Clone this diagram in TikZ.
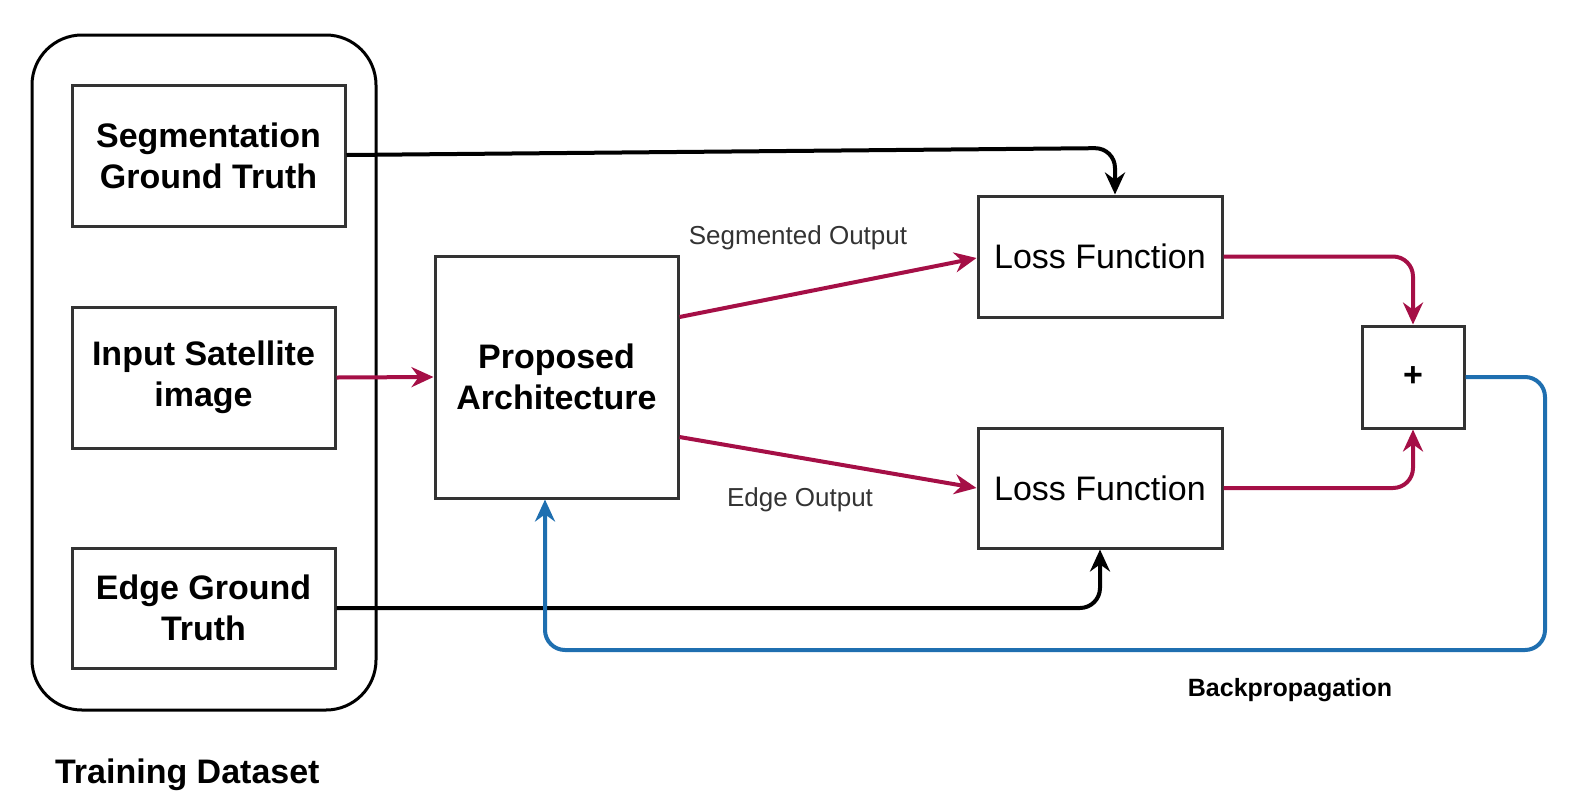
\documentclass[tikz,border=0pt]{standalone}
\usepackage{fontspec}
\setmainfont{Liberation Sans}
\usetikzlibrary{arrows.meta}
\definecolor{cred}{HTML}{A50F46}
\definecolor{cblue}{HTML}{1F6FB0}
\begin{document}
\begin{tikzpicture}[x=0.5pt,y=-0.5pt,
  box/.style={draw=black!80,line width=1.5pt,fill=white,inner sep=0pt,align=center},
  bt/.style={font=\fontsize{17}{20.5}\selectfont\bfseries},
  lt/.style={font=\fontsize{17}{20}\selectfont},
  conn/.style={line width=2pt,-{Stealth[length=11pt,width=10pt]},rounded corners=10pt},
  lab/.style={font=\fontsize{13}{15}\selectfont,text=black!80}]
\useasboundingbox (0,0) rectangle (1570,810);
\draw[line width=1.5pt,rounded corners=25pt] (32,35) rectangle (376,710);
\node[box,bt,minimum width=136.5pt,minimum height=70.5pt] (seg) at (208.5,155.5) {Segmentation\\Ground Truth};
\node[box,bt,minimum width=131.5pt,minimum height=70.5pt] (inp) at (203.5,377.5) {Input Satellite\\image};
\node[box,bt,minimum width=131.5pt,minimum height=60pt] (edg) at (203.5,608) {Edge Ground\\Truth};
\node[box,bt,minimum width=121.5pt,minimum height=121pt] (arch) at (556.5,377) {Proposed\\Architecture};
\node[box,lt,minimum width=122pt,minimum height=60.5pt] (l1) at (1100,256.5) {Loss Function};
\node[box,lt,minimum width=122pt,minimum height=60pt] (l2) at (1100,488) {Loss Function};
\node[box,bt,minimum width=51pt,minimum height=51pt] (plus) at (1413,377) {+};
\node[bt,anchor=west] (td) at (48,775) {Training Dataset};
\node[font=\fontsize{12.5}{14}\selectfont\bfseries] (bp) at (1290,690) {Backpropagation};
\node[lab] (so) at (798,238) {Segmented Output};
\node[lab] (eo) at (800,500) {Edge Output};
\draw[conn,black] (seg.east|-0,155) -- (1115,148) -- (l1.north-|1115,0);
\draw[conn,cred] (inp.east) -- (arch.west);
\draw[conn,cred] (arch.east|-0,317) -- (l1.west|-0,258);
\draw[conn,cred] (arch.east|-0,437) -- (l2.west|-0,488);
\draw[conn,cred] (l1.east) -| (plus.north);
\draw[conn,cred] (l2.east) -| (plus.south);
\draw[conn,black] (edg.east) -| (l2.south);
\draw[conn,cblue] (plus.east) -- (1545,377) -- (1545,650) -- (545,650) -- (arch.south-|545,0);
\end{tikzpicture}
\end{document}
